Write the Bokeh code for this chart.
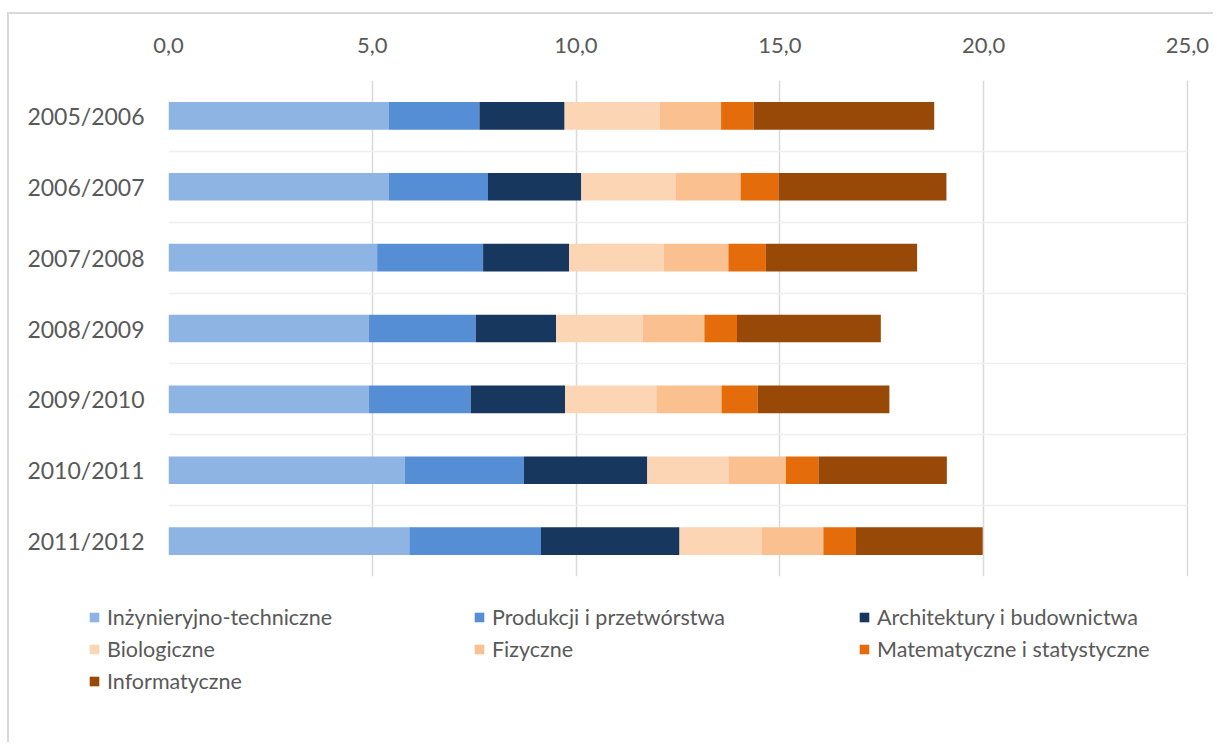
from bokeh.plotting import figure
from bokeh.layouts import column
from bokeh.models import ColumnDataSource, FixedTicker, Legend, LegendItem
from bokeh.embed import file_html
from bokeh.resources import INLINE

years = ["2005/2006", "2006/2007", "2007/2008", "2008/2009", "2009/2010", "2010/2011", "2011/2012"]
inzynieryjno = [5.40, 5.40, 5.12, 4.91, 4.91, 5.80, 5.91]
produkcji = [2.23, 2.44, 2.60, 2.63, 2.51, 2.92, 3.23]
architektury = [2.09, 2.29, 2.11, 1.97, 2.31, 3.03, 3.40]
biologiczne = [2.33, 2.31, 2.32, 2.13, 2.24, 1.99, 2.01]
fizyczne = [1.51, 1.60, 1.59, 1.51, 1.60, 1.41, 1.52]
matematyczne = [0.80, 0.93, 0.92, 0.80, 0.89, 0.80, 0.80]
informatyczne = [4.43, 4.12, 3.71, 3.53, 3.23, 3.15, 3.11]

series_labels = ["Inżynieryjno-techniczne", "Produkcji i przetwórstwa", "Architektury i budownictwa",
                 "Biologiczne", "Fizyczne", "Matematyczne i statystyczne", "Informatyczne"]
colors = ["#8EB4E3", "#558ED5", "#17375E", "#FCD5B5", "#FAC090", "#E46C0A", "#984807"]
x_ticks = [0, 5, 10, 15, 20, 25]
x_tick_labels = ["0,0", "5,0", "10,0", "15,0", "20,0", "25,0"]

n = len(years)
ypos = [n - i for i in range(n)]
keys = ["s%d" % i for i in range(7)]
data = {"y": ypos}
for k, vals in zip(keys, [inzynieryjno, produkcji, architektury, biologiczne, fizyczne, matematyczne, informatyczne]):
    data[k] = vals
source = ColumnDataSource(data)

FONT = "Lato"
TXT = "#595959"
W = 1204

p = figure(width=W, height=566, x_range=(0, 25.03), y_range=(0.5, n + 0.5),
           output_backend="svg", toolbar_location=None, x_axis_location="above",
           min_border_left=159, min_border_right=25, min_border_top=66, min_border_bottom=4)
p.outline_line_color = None
p.background_fill_color = "white"
p.border_fill_color = "white"
p.frame_align = False

p.hbar_stack(keys, y="y", height=0.39, color=colors, source=source, line_color=None)

xa = p.xaxis[0]
xa.ticker = FixedTicker(ticks=x_ticks)
xa.major_label_overrides = {t: l for t, l in zip(x_ticks, x_tick_labels)}
xa.axis_line_color = None
xa.major_tick_line_color = None
xa.minor_tick_line_color = None
xa.major_label_standoff = 22
xa.major_label_text_font = FONT
xa.major_label_text_font_size = "22px"
xa.major_label_text_color = TXT

ya = p.yaxis[0]
ya.ticker = FixedTicker(ticks=ypos)
ya.major_label_overrides = {yv: yr for yv, yr in zip(ypos, years)}
ya.axis_line_color = None
ya.major_tick_line_color = None
ya.minor_tick_line_color = None
ya.major_label_standoff = 18
ya.major_label_text_font = FONT
ya.major_label_text_font_size = "23px"
ya.major_label_text_color = TXT

p.xgrid.ticker = FixedTicker(ticks=x_ticks)
p.xgrid.grid_line_color = "#d9d9d9"
p.xgrid.grid_line_width = 1.5
p.ygrid.ticker = FixedTicker(ticks=[i + 0.5 for i in range(n + 1)])
p.ygrid.grid_line_color = "#efefef"
p.ygrid.grid_line_width = 1.5

# legend panel (its own frame spans the whole width)
H2 = 162
q = figure(width=W, height=H2, x_range=(0, 1), y_range=(0, 1),
           output_backend="svg", toolbar_location=None,
           min_border_left=0, min_border_right=0, min_border_top=0, min_border_bottom=0)
q.frame_align = False
q.axis.visible = False
q.grid.visible = False
q.outline_line_color = None
q.background_fill_color = "white"
q.border_fill_color = "white"
legend_rs = q.hbar_stack(keys, y="y", height=0.39, color=colors, source=source, line_color=None)
for r in legend_rs:
    r.visible = False

cols = [[0, 3, 6], [1, 4], [2, 5]]
col_x = [79, 464, 849]
for cidx, idxs in enumerate(cols):
    items = [LegendItem(label=series_labels[i], renderers=[legend_rs[i]]) for i in idxs]
    nrows = len(idxs)
    bottom = H2 - (21 + 32 * nrows)
    leg = Legend(items=items, location=(col_x[cidx], bottom),
                 orientation="vertical", padding=0, margin=0, spacing=0,
                 glyph_width=12, glyph_height=12, label_standoff=7, label_height=32,
                 border_line_color=None, background_fill_alpha=0,
                 inactive_fill_alpha=0, click_policy="none",
                 label_text_font=FONT, label_text_font_size="21.5px", label_text_color=TXT)
    q.add_layout(leg, "center")

layout = column(p, q, spacing=0)
layout.styles = {"border-top": "2px solid #d9d9d9", "border-left": "2px solid #d9d9d9",
                 "margin-top": "12px", "margin-left": "7px"}

open("out.html", "w").write(file_html(layout, INLINE))
